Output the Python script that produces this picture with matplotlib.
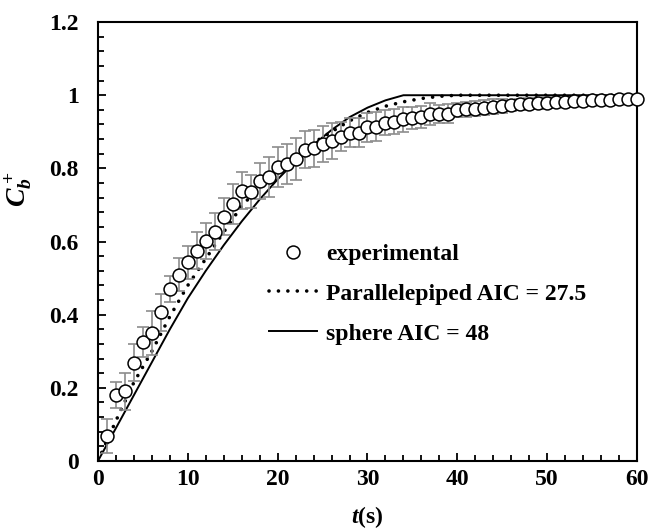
import matplotlib
matplotlib.use("Agg")
import matplotlib.pyplot as plt
from matplotlib.ticker import MultipleLocator, FuncFormatter
from matplotlib.lines import Line2D

plt.rcParams['font.family'] = ['Liberation Serif', 'DejaVu Serif']
plt.rcParams['font.weight'] = 'bold'
plt.rcParams['mathtext.fontset'] = 'custom'
plt.rcParams['mathtext.rm'] = 'Liberation Serif:bold'
plt.rcParams['mathtext.it'] = 'Liberation Serif:italic:bold'
plt.rcParams['mathtext.bf'] = 'Liberation Serif:bold'

# experimental data
t_exp = list(range(1, 61))
cb_exp = [0.068, 0.180, 0.190, 0.269, 0.325, 0.351, 0.406, 0.470, 0.509, 0.543,
          0.575, 0.602, 0.627, 0.668, 0.703, 0.739, 0.736, 0.766, 0.777, 0.804,
          0.812, 0.825, 0.851, 0.855, 0.867, 0.875, 0.887, 0.898, 0.898, 0.912,
          0.914, 0.925, 0.928, 0.934, 0.938, 0.940, 0.948, 0.949, 0.950, 0.960,
          0.961, 0.963, 0.966, 0.969, 0.971, 0.973, 0.975, 0.977, 0.978, 0.980,
          0.981, 0.982, 0.984, 0.985, 0.986, 0.987, 0.988, 0.989, 0.990, 0.991]
err_exp = [0.047, 0.035, 0.050, 0.050, 0.040, 0.060, 0.050, 0.035, 0.045, 0.045,
           0.050, 0.050, 0.050, 0.050, 0.055, 0.050, 0.045, 0.050, 0.055, 0.055,
           0.055, 0.057, 0.050, 0.050, 0.050, 0.050, 0.040, 0.040, 0.040, 0.040,
           0.040, 0.035, 0.035, 0.035, 0.030, 0.030, 0.030, 0.025, 0.025, 0.020,
           0.020, 0.020, 0.020, 0.020, 0.020, 0.015, 0.015, 0.015, 0.015, 0.015,
           0.010, 0.010, 0.010, 0.010, 0.010, 0.010, 0.010, 0.010, 0.010, 0.010]

# parallelepiped model
t_par = [0, 2, 4, 6, 8, 10, 12, 14, 16, 18, 20, 22, 24, 26, 28, 30, 32, 34, 36, 38, 40, 60]
cb_par = [0.0, 0.11, 0.215, 0.30, 0.395, 0.48, 0.553, 0.626, 0.697, 0.75, 0.795,
          0.835, 0.87, 0.90, 0.93, 0.953, 0.97, 0.982, 0.991, 0.997, 1.0, 1.0]

# sphere model
t_sph = [0, 2, 4, 6, 8, 10, 12, 14, 16, 18, 20, 22, 24, 26, 28, 30, 32, 34, 60]
cb_sph = [0.0, 0.09, 0.18, 0.27, 0.36, 0.445, 0.52, 0.59, 0.655, 0.715, 0.77,
          0.82, 0.865, 0.905, 0.94, 0.966, 0.986, 1.0, 1.0]

labels = ['experimental', 'Parallelepiped AIC = 27.5', 'sphere AIC = 48']

fig = plt.figure(figsize=(6.51, 5.32), dpi=100)
ax = fig.add_axes([0.1505, 0.1335, 0.828, 0.825])

ax.plot(t_sph, cb_sph, color='black', lw=1.4, zorder=2)
ax.plot(t_par, cb_par, color='black', lw=2.6, linestyle=(0, (0.01, 2.6)),
        dash_capstyle='round', zorder=2)
ax.errorbar(t_exp, cb_exp, yerr=err_exp, fmt='none', ecolor='#8c8c8c',
            elinewidth=1.2, capsize=4, capthick=1.2, zorder=3)
ax.plot(t_exp, cb_exp, 'o', ms=9.3, mfc='white', mec='black', mew=1.1,
        linestyle='none', zorder=4, clip_on=False)

ax.set_xlim(0, 60)
ax.set_ylim(0, 1.2)
ax.xaxis.set_major_locator(MultipleLocator(10))
ax.xaxis.set_minor_locator(MultipleLocator(2))
ax.yaxis.set_major_locator(MultipleLocator(0.2))
ax.yaxis.set_minor_locator(MultipleLocator(0.04))
ax.yaxis.set_major_formatter(FuncFormatter(lambda v, p: f'{v:g}'))
ax.tick_params(axis='both', which='both', direction='in', top=False, right=False,
               labelsize=17, width=1.3)
ax.tick_params(axis='both', which='major', length=6)
ax.tick_params(axis='both', which='minor', length=4)
ax.tick_params(axis='y', which='major', pad=14)
ax.tick_params(axis='x', which='major', pad=6)
for s in ax.spines.values():
    s.set_linewidth(1.5)

ax.set_xlabel(r'$t$(s)', fontsize=17, fontweight='bold')
ax.xaxis.set_label_coords(0.5, -0.099)
ax.set_ylabel(r'$C_b^+$', fontsize=20, fontweight='bold')
ax.yaxis.set_label_coords(-0.118, 0.62)

handles = [
    Line2D([], [], marker='o', ms=9.3, mfc='white', mec='black', mew=1.1, linestyle='none'),
    Line2D([], [], color='black', lw=2.6, linestyle=(0, (0.01, 2.6)), dash_capstyle='round'),
    Line2D([], [], color='black', lw=1.4),
]
leg = ax.legend(handles, labels, loc='upper left', bbox_to_anchor=(0.296, 0.523),
                frameon=False, handlelength=2.0, handletextpad=0.4,
                labelspacing=0.78, borderpad=0, prop={'weight': 'bold', 'size': 17})

fig.savefig('out.png', dpi=100)
